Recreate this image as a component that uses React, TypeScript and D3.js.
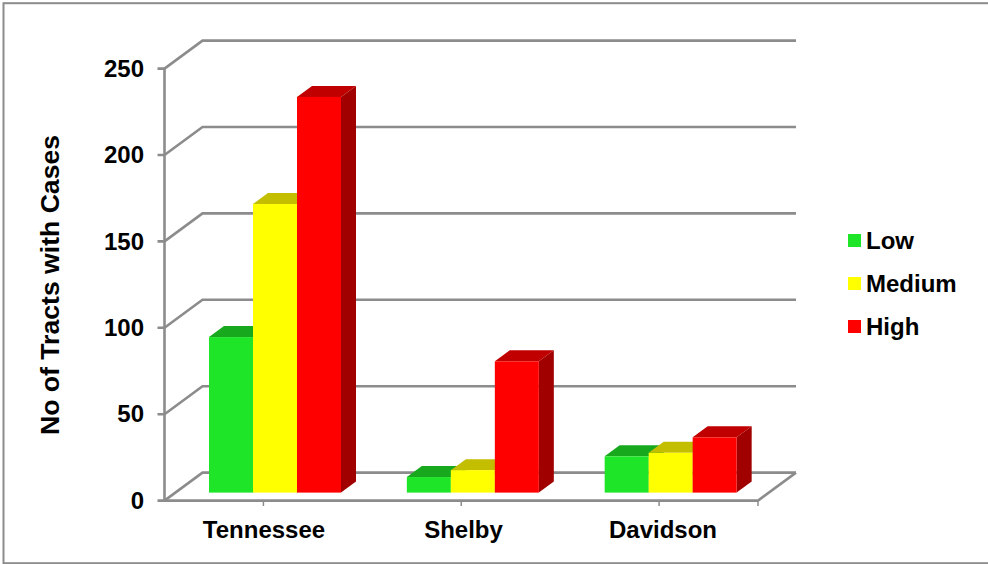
import React from "react";
import * as d3 from "d3";

const categories = ["Tennessee", "Shelby", "Davidson"];
const seriesNames = ["Low", "Medium", "High"];
const low = [90, 9, 21];
const medium = [167, 13, 23];
const high = [229, 76, 32];
const yTicks = [0, 50, 100, 150, 200, 250];

const faceColors = ["#1fe528", "#ffff00", "#ff0000"];
const topColors = ["#18a81e", "#c4be00", "#c00000"];
const sideColors = ["#128a18", "#a09a00", "#a00000"];
const axisColor = "#8c8c8c";
const font = "'Liberation Sans', Arial, sans-serif";

// Oblique projection: wall depth and bar depth
const wallDx = 38;
const wallDy = -28;
const barDx = 15;
const barDy = -11;
const baseLift = -8;

const y = d3.scaleLinear().domain([0, 250]).range([500.6, 68.6]);
const x = d3.scaleBand<string>().domain(categories).range([164.5, 758]);
const series = d3.scaleBand<string>().domain(seriesNames).range([44.5, 176.5]);
const labelX = d3.scalePoint<string>().domain(categories).range([264, 663]);

const floorPath = d3.path();
floorPath.moveTo(x.range()[0], y(0));
floorPath.lineTo(x.range()[1], y(0));
floorPath.lineTo(x.range()[1] + wallDx, y(0) + wallDy);

export default function App() {
  const values = [low, medium, high];
  return (
    <svg
      width={988}
      height={564}
      style={{ position: "absolute", left: 0, top: 0, background: "#fff" }}
      fontFamily={font}
      fontWeight="bold"
      fill="#000"
    >
      {/* Chart frame: its right edge runs off the canvas */}
      <rect x={3.5} y={3.2} width={1000} height={560} fill="#fff" stroke={axisColor} strokeWidth={2} />

      {yTicks.map((t) => (
        <path
          key={t}
          d={`M157.5 ${y(t)}H164.5L${164.5 + wallDx} ${y(t) + wallDy}H${758 + wallDx}`}
          fill="none"
          stroke={axisColor}
          strokeWidth={2.6}
        />
      ))}
      <line x1={164.5} x2={164.5} y1={y(250)} y2={y(0)} stroke={axisColor} strokeWidth={2.6} />
      <path d={floorPath.toString()} fill="none" stroke={axisColor} strokeWidth={2.6} />
      {[...categories.map((c) => x(c)! + x.bandwidth() / 2), 758].map((px) => (
        <line key={px} x1={px} x2={px} y1={500} y2={506} stroke={axisColor} strokeWidth={1.5} />
      ))}

      {yTicks.map((t) => (
        <text key={t} x={144} y={y(t) + 8.2} textAnchor="end" fontSize={24}>
          {t}
        </text>
      ))}
      {categories.map((c) => (
        <text key={c} x={labelX(c)} y={538} textAnchor="middle" fontSize={24}>
          {c}
        </text>
      ))}
      <text
        transform="translate(58.7,285) rotate(-90)"
        textAnchor="middle"
        fontSize={26.6}
      >
        No of Tracts with Cases
      </text>

      {categories.map((c, ci) => (
        <g key={c}>
          {seriesNames.map((s, si) => {
            const x0 = x(c)! + series(s)!;
            const x1 = x0 + series.bandwidth();
            const base = y(0) + baseLift;
            const top = base - (y(0) - y(values[si][ci]));
            return (
              <g key={s}>
                <path
                  d={`M${x1} ${top}L${x1 + barDx} ${top + barDy}V${base + barDy}L${x1} ${base}Z`}
                  fill={sideColors[si]}
                />
                <path
                  d={`M${x0} ${top}L${x0 + barDx} ${top + barDy}H${x1 + barDx}L${x1} ${top}Z`}
                  fill={topColors[si]}
                />
              </g>
            );
          })}
          {seriesNames.map((s, si) => {
            const x0 = x(c)! + series(s)!;
            const base = y(0) + baseLift;
            const h = y(0) - y(values[si][ci]);
            return (
              <rect
                key={s}
                x={x0}
                y={base - h}
                width={series.bandwidth()}
                height={h}
                fill={faceColors[si]}
              />
            );
          })}
        </g>
      ))}

      {seriesNames.map((s, i) => (
        <g key={s} transform={`translate(848,${234 + i * 43})`}>
          <rect width={13} height={13} fill={faceColors[i]} />
          <text x={18} y={14.5} fontSize={24}>
            {s}
          </text>
        </g>
      ))}
    </svg>
  );
}
